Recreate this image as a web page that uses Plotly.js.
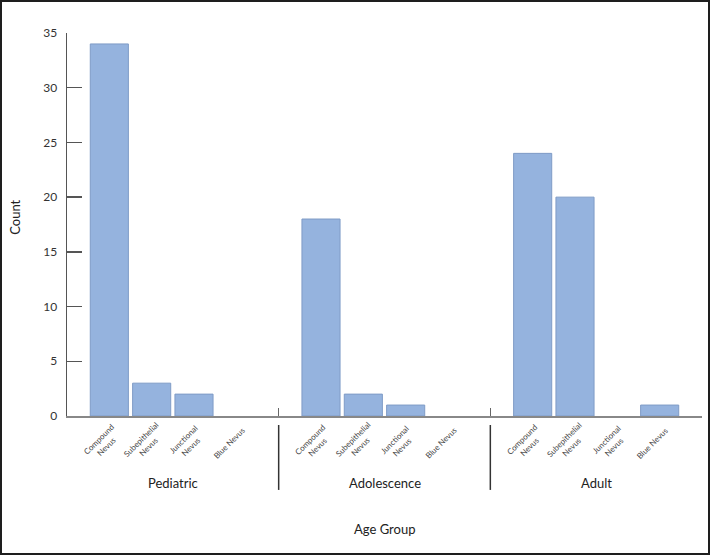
<!DOCTYPE html>
<html>
<head>
<meta charset="utf-8">
<script src="https://cdn.plot.ly/plotly-3.0.1.min.js"></script>
<style>
  html, body { margin: 0; padding: 0; background: #fff; }
  #wrap { position: relative; width: 710px; height: 555px; }
  #chart { width: 710px; height: 555px; }
  #frame { position: absolute; left: 0; top: 0; width: 710px; height: 555px; box-sizing: border-box; border: 2px solid #1e1e1e; pointer-events: none; }
</style>
</head>
<body>
<div id="wrap"><div id="chart"></div><div id="frame"></div></div>
<script>
// ---- data ----
var groups = ['Pediatric', 'Adolescence', 'Adult'];
var nevusTypes = ['Compound<br>Nevus', 'Subepithelial<br>Nevus', 'Junctional<br>Nevus', 'Blue Nevus'];
var pediatric = [34, 3, 2, 0];
var adolescence = [18, 2, 1, 0];
var adult = [24, 20, 0, 1];
var yTicks = [0, 5, 10, 15, 20, 25, 30, 35];

var seriesByGroup = [pediatric, adolescence, adult];
var slotsPerGroup = nevusTypes.length + 1; // half-slot padding on each side

var xs = [], ys = [], lineW = [], labelX = [], labelText = [];
seriesByGroup.forEach(function (vals, g) {
  vals.forEach(function (v, i) {
    var pos = g * slotsPerGroup + 1 + i;
    xs.push(pos); ys.push(v); lineW.push(v > 0 ? 1 : 0);
    labelX.push(pos); labelText.push(nevusTypes[i]);
  });
});

var font = 'Lato, "Open Sans", sans-serif';
var annotations = [];
labelX.forEach(function (x, k) {
  annotations.push({
    x: x - 0.17, xref: 'x', y: -0.07, yref: 'paper',
    text: labelText[k], showarrow: false, textangle: -45,
    xanchor: 'center', yanchor: 'middle', align: 'center',
    font: { family: font, size: 8, color: '#444' }
  });
});
groups.forEach(function (gname, g) {
  annotations.push({
    x: g * slotsPerGroup + slotsPerGroup / 2, xref: 'x', y: -0.175, yref: 'paper',
    text: gname, showarrow: false, xanchor: 'center', yanchor: 'middle',
    font: { family: font, size: 13, color: '#222' }
  });
});
annotations.push({
  x: groups.length * slotsPerGroup / 2, xref: 'x', y: -0.295, yref: 'paper',
  text: 'Age Group', showarrow: false, xanchor: 'center', yanchor: 'middle',
  font: { family: font, size: 13, color: '#222' }
});
annotations.push({
  x: -0.082, xref: 'paper', y: 0.52, yref: 'paper',
  text: 'Count', showarrow: false, textangle: -90, xanchor: 'center', yanchor: 'middle',
  font: { family: font, size: 13, color: '#222' }
});

var shapes = [];
for (var g = 1; g < groups.length; g++) {
  shapes.push({
    type: 'line', xref: 'x', yref: 'paper',
    x0: g * slotsPerGroup, x1: g * slotsPerGroup, y0: -0.0235, y1: -0.193,
    line: { color: '#333', width: 1.5 }
  });
}

var trace = {
  type: 'bar', x: xs, y: ys, width: 0.9,
  marker: { color: '#95b3de', line: { color: '#7f9bc6', width: lineW } },
  hoverinfo: 'y'
};

var layout = {
  width: 710, height: 555,
  margin: { l: 67, r: 8, t: 33, b: 139 },
  paper_bgcolor: '#fff', plot_bgcolor: '#fff',
  showlegend: false,
  font: { family: font, color: '#333' },
  xaxis: {
    range: [0, groups.length * slotsPerGroup],
    showgrid: false, zeroline: false,
    showline: true, linecolor: '#888', linewidth: 1.5,
    tickmode: 'array',
    tickvals: [slotsPerGroup, 2 * slotsPerGroup, 3 * slotsPerGroup],
    ticks: 'inside', ticklen: 8, tickcolor: '#666', tickwidth: 1.5,
    showticklabels: false, fixedrange: true
  },
  yaxis: {
    range: [0, 35], tickmode: 'array', tickvals: yTicks,
    showgrid: false, zeroline: false,
    showline: true, linecolor: '#555', linewidth: 1.5,
    ticks: 'inside', ticklen: 15, tickcolor: '#555', tickwidth: 1.5,
    ticklabelstandoff: 6,
    tickfont: { family: font, size: 12, color: '#333' }, fixedrange: true
  },
  annotations: annotations,
  shapes: shapes
};

Plotly.newPlot('chart', [trace], layout, { displayModeBar: false, staticPlot: true });
</script>
</body>
</html>
